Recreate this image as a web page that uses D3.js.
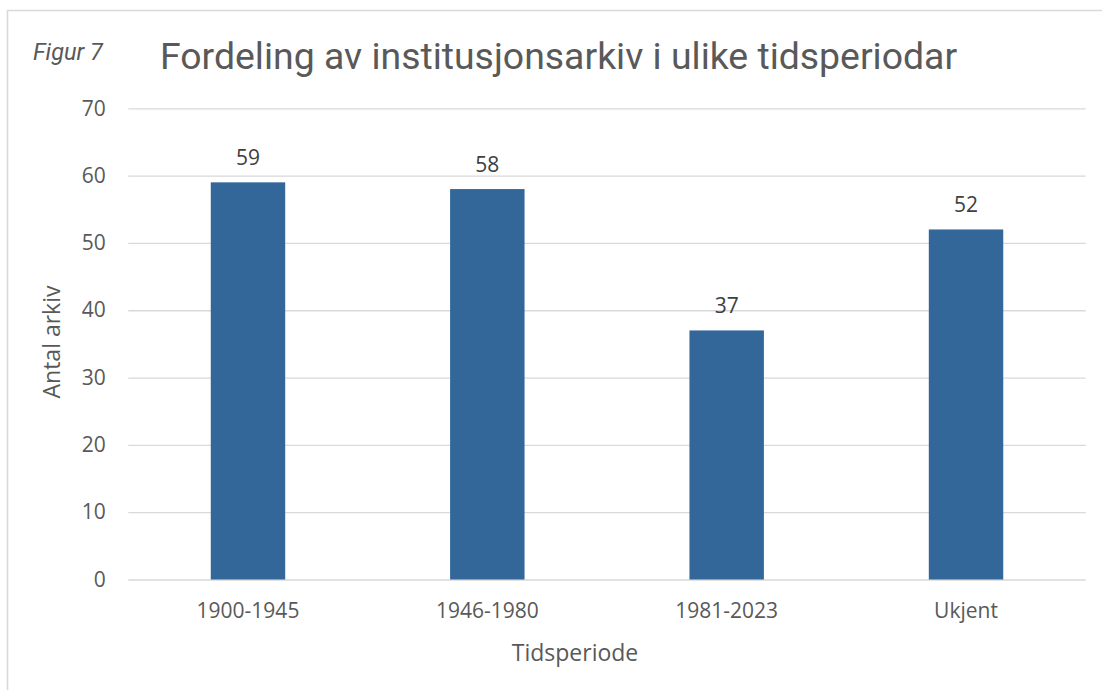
<!DOCTYPE html>
<html>
<head>
<meta charset="utf-8">
<script src="https://cdn.jsdelivr.net/npm/d3@7"></script>
<style>
  html, body { margin: 0; padding: 0; background: #fff; }
  svg { display: block; }
</style>
</head>
<body>
<svg id="chart" width="1102" height="690"></svg>
<script>
const categories = ["1900-1945", "1946-1980", "1981-2023", "Ukjent"];
const values = [59, 58, 37, 52];
const yTicks = [0, 10, 20, 30, 40, 50, 60, 70];
const titleText = "Fordeling av institusjonsarkiv i ulike tidsperiodar";
const figLabel = "Figur 7";
const yTitle = "Antal arkiv";
const xTitle = "Tidsperiode";

const W = 1102, H = 690;
const margin = { left: 128.3, right: 16.3, top: 108.3, bottom: 110.5 };
const svg = d3.select("#chart");
const textColor = "#595959";
const labelFont = "'Open Sans', sans-serif";

// frame (left and top edges visible)
svg.append("path")
  .attr("d", `M7.5,${H} L7.5,10.5 L${W},10.5`)
  .attr("fill", "none").attr("stroke", "#d9d9d9").attr("stroke-width", 1.6);

const x = d3.scaleBand().domain(categories)
  .range([margin.left, W - margin.right]).paddingInner(0.689).paddingOuter(0.3445);
const y = d3.scaleLinear().domain([0, 70]).range([H - margin.bottom, margin.top]);

// gridlines via axis
const grid = svg.append("g")
  .attr("transform", `translate(${margin.left},0)`)
  .call(d3.axisLeft(y).tickValues(yTicks).tickSize(-(W - margin.right - margin.left)).tickFormat(""));
grid.select(".domain").remove();
grid.selectAll("line").attr("stroke", "#d9d9d9").attr("stroke-width", 1.3);

// y tick labels
const yAxis = svg.append("g")
  .attr("transform", `translate(${margin.left},0)`)
  .call(d3.axisLeft(y).tickValues(yTicks).tickSize(0).tickPadding(22.5));
yAxis.select(".domain").remove();
yAxis.selectAll("text").attr("fill", textColor)
  .style("font-family", labelFont).style("font-size", "21px");

// bars
svg.append("g").selectAll("rect").data(values).join("rect")
  .attr("x", (d, i) => x(categories[i]))
  .attr("y", d => y(d))
  .attr("width", x.bandwidth())
  .attr("height", d => y(0) - y(d))
  .attr("fill", "#336699");

// data labels
svg.append("g").selectAll("text").data(values).join("text")
  .attr("x", (d, i) => x(categories[i]) + x.bandwidth() / 2)
  .attr("y", d => y(d) - 17.5)
  .attr("text-anchor", "middle")
  .attr("fill", "#404040")
  .style("font-family", labelFont).style("font-size", "21px")
  .text(d => d);

// x axis labels
const xAxis = svg.append("g")
  .attr("transform", `translate(0,${y(0)})`)
  .call(d3.axisBottom(x).tickSize(0).tickPadding(24));
xAxis.select(".domain").remove();
xAxis.selectAll("text").attr("fill", textColor)
  .style("font-family", labelFont).style("font-size", "21px");

// axis titles
svg.append("text")
  .attr("x", 575)
  .attr("y", 661)
  .attr("text-anchor", "middle")
  .attr("fill", textColor)
  .style("font-family", labelFont).style("font-size", "23px")
  .text(xTitle);

svg.append("text")
  .attr("transform", `translate(60,342) rotate(-90)`)
  .attr("text-anchor", "middle")
  .attr("fill", textColor)
  .style("font-family", labelFont).style("font-size", "23px")
  .text(yTitle);

// title and figure label
svg.append("text")
  .attr("x", 160).attr("y", 68.5)
  .attr("fill", textColor)
  .style("font-family", "Roboto, sans-serif").style("font-size", "37.4px")
  .text(titleText);

svg.append("text")
  .attr("x", 33).attr("y", 60)
  .attr("fill", textColor)
  .style("font-family", "Roboto, sans-serif").style("font-style", "italic").style("font-size", "23.5px")
  .text(figLabel);
</script>
</body>
</html>
